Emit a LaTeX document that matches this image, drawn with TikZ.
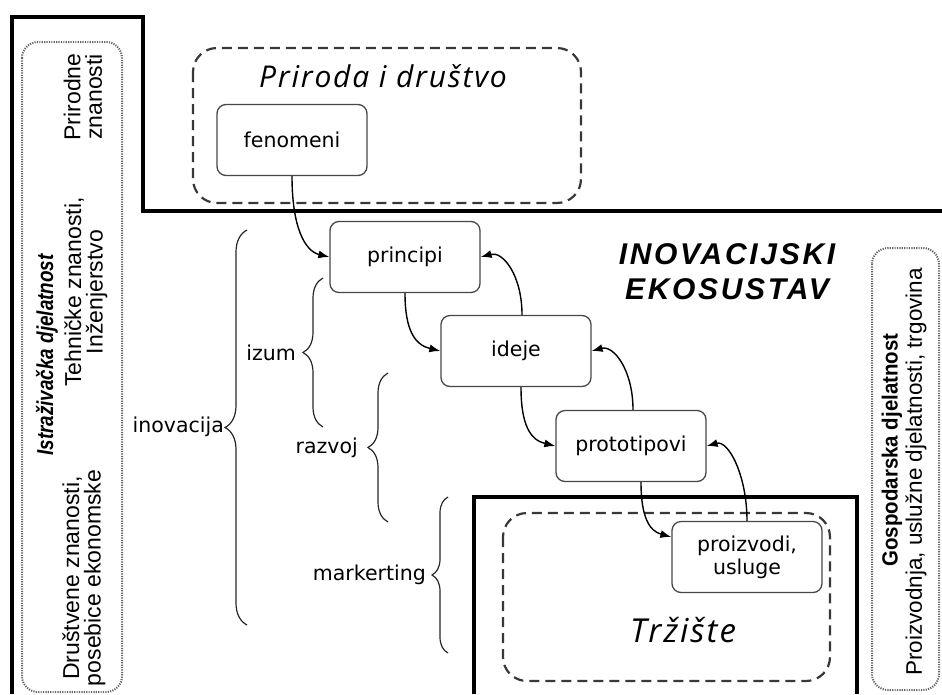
\documentclass[tikz,border=0pt]{standalone}
\usepackage{fontspec}
\usetikzlibrary{decorations.pathreplacing,arrows.meta}
\newfontfamily\nodefont{DejaVu Sans}
\newfontfamily\sidefont{Liberation Sans}
\newfontfamily\ecofont[LetterSpace=9]{Liberation Sans}
\newfontfamily\handfont[LetterSpace=6]{Open Sans}
\begin{document}
\begin{tikzpicture}[x=1pt,y=-1pt,
  box/.style={draw=black!72, line width=1.3pt, rounded corners=9pt, minimum width=150pt, minimum height=71pt, fill=white, font=\nodefont\fontsize{20.5}{23}\selectfont, align=center, inner sep=0pt},
  dashbox/.style={draw=black!78, line width=2.2pt, dash pattern=on 10pt off 6pt, rounded corners=24pt},
  dotbox/.style={draw=black!60, line width=2pt, dash pattern=on 1.2pt off 1.2pt, rounded corners=16pt},
  thick line/.style={draw=black, line width=4pt},
  arr/.style={draw=black, line width=1.4pt, -{Latex[length=11pt,width=8pt]}},
  bracedeco/.style={draw=black!85, line width=1.2pt, decorate},
  lbl/.style={font=\nodefont\fontsize{20.5}{23}\selectfont, anchor=east, inner sep=0pt},
  side/.style={font=\sidefont\fontsize{23}{21.5}\selectfont, rotate=90, align=center, inner sep=0pt}
]
\useasboundingbox (0,0) rectangle (942,694);
% dashed regions
\draw[dashbox] (193,48) rectangle (581,203);
\draw[dashbox] (503,513) rectangle (830,681);
% thick boundaries
\draw[thick line] (12,694) -- (12,17) -- (143,17) -- (143,211) -- (942,211);
\draw[thick line] (474,694) -- (474,497) -- (857,497) -- (857,694);
% side panels
\draw[dotbox] (22,42) rectangle (122,692);
\draw[dotbox] (872,248) rectangle (939,690);
\node[side] (prir) at (83,97) {Prirodne\\znanosti};
\node[side, font=\sidefont\bfseries\itshape\fontsize{23}{21.5}\selectfont] (istr) at (47,355) {\scalebox{0.82}[1]{Istraživačka djelatnost}};
\node[side] (teh) at (86,292) {Tehničke znanosti,\\Inženjerstvo};
\node[side] (drus) at (84,578) {Društvene znanosti,\\posebice ekonomske};
\node[side, font=\sidefont\bfseries\fontsize{22}{19}\selectfont] (gosp) at (892,450) {\scalebox{0.93}[1]{Gospodarska djelatnost}};
\node[side, font=\sidefont\fontsize{22.5}{19}\selectfont] (proizv) at (916,472) {Proizvodnja, uslužne djelatnosti, trgovina};
% titles
\node[font=\handfont\itshape\fontsize{30}{32}\selectfont] (prd) at (383,76) {Priroda i društvo};
\node[font=\handfont\itshape\fontsize{33}{35}\selectfont] (trz) at (683,630) {Tržište};
\node[font=\ecofont\bfseries\itshape\fontsize{30}{35}\selectfont, align=center] (eco) at (727,272) {INOVACIJSKI\\EKOSUSTAV};
% nodes
\node[box] (fen) at (292,140) {fenomeni};
\node[box] (pri) at (405,257) {principi};
\node[box] (ide) at (516,351) {ideje};
\node[box] (pro) at (631,446) {prototipovi};
\node[box] (piz) at (747,557) {proizvodi,\\usluge};
% forward arrows
\draw[arr] (fen.south) .. controls +(0,50) and +(-25,-6) .. (pri.west);
\draw[arr] (pri.south) .. controls +(0,38) and +(-25,-6) .. (ide.west);
\draw[arr] ([xshift=5pt]ide.south) .. controls +(0,38) and +(-25,-6) .. (pro.west);
\draw[arr] ([xshift=10pt]pro.south) .. controls +(0,35) and +(-22,-6) .. ([yshift=20pt]piz.west);
% backward arrows
\draw[arr] (piz.north) .. controls +(0,-45) and +(22,-6) .. (pro.east);
\draw[arr] ([xshift=2pt]pro.north) .. controls +(0,-40) and +(22,-6) .. (ide.east);
\draw[arr] ([xshift=6pt]ide.north) .. controls +(0,-40) and +(22,-6) .. (pri.east);
% braces
\draw[bracedeco, decoration={brace, amplitude=22pt}] (247,625) -- (247,230);
\draw[bracedeco, decoration={brace, amplitude=20pt}] (323,427) -- (323,278);
\draw[bracedeco, decoration={brace, amplitude=20pt}] (388,522) -- (388,373);
\draw[bracedeco, decoration={brace, amplitude=16pt}] (448,653) -- (448,497);
\node[lbl] (linov) at (224,427) {inovacija};
\node[lbl] (lizum) at (296,353) {izum};
\node[lbl] (lraz) at (358,448) {razvoj};
\node[lbl] (lmark) at (426,575) {markerting};
\end{tikzpicture}
\end{document}
